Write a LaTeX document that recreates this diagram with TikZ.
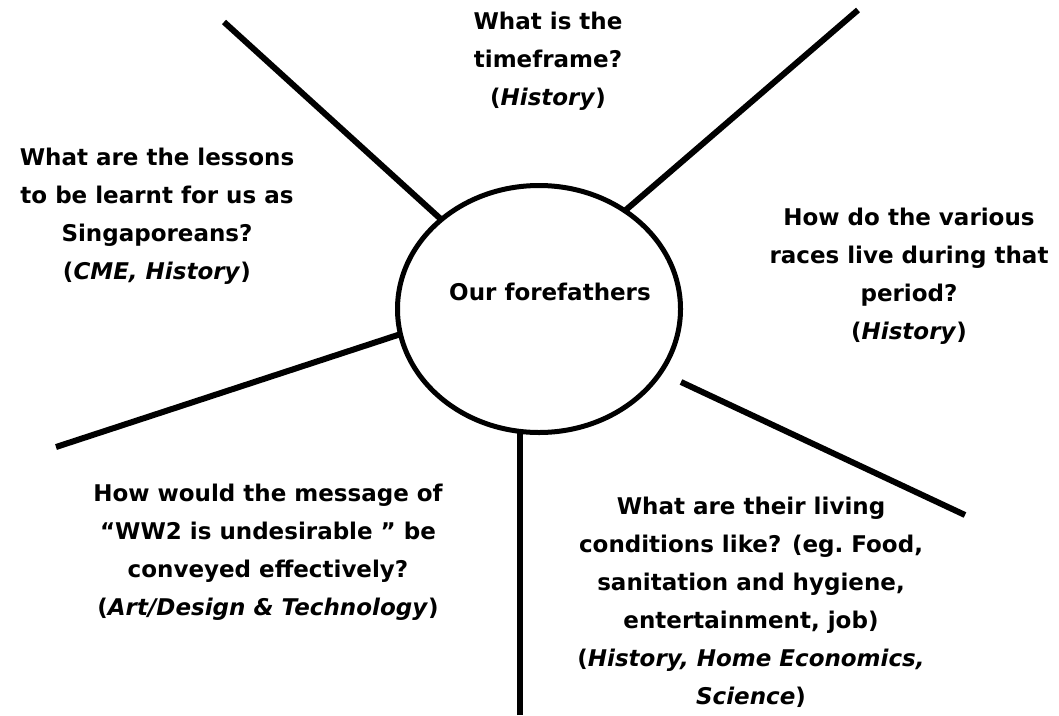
\documentclass[tikz,border=0pt]{standalone}
\usepackage{fontspec}
\setmainfont{DejaVu Sans}[BoldFont={DejaVu Sans Bold},BoldItalicFont={DejaVu Sans Bold Oblique}]
\usetikzlibrary{shapes.geometric}
\tikzset{
  spoke/.style={line width=6pt},
  hub/.style={draw, ellipse, line width=5pt, fill=white, minimum width=283pt, minimum height=247pt, inner sep=0pt},
  qtext/.style={align=center, font=\fontsize{23}{38}\selectfont\bfseries, inner sep=0pt},
}
\newcommand{\subj}[1]{\textit{#1}}
\begin{document}
\begin{tikzpicture}[x=1pt,y=-1pt]
\useasboundingbox (0,0) rectangle (1059,715);
% outer ends
\coordinate (o1) at (224,22);
\coordinate (o2) at (858,10);
\coordinate (o3) at (56,447);
\coordinate (o4) at (965,515);
\coordinate (o5) at (520,715);
% inner ends
\coordinate (i1) at (455,232);
\coordinate (i2) at (620,215);
\coordinate (i3) at (410,331);
\coordinate (i4) at (681,382);
\coordinate (i5) at (520,420);
\draw[spoke] (o1) -- (i1);
\draw[spoke] (o2) -- (i2);
\draw[spoke] (o3) -- (i3);
\draw[spoke] (o4) -- (i4);
\draw[spoke] (o5) -- (i5);
\node[hub] (E) at (539,309) {};
\node[qtext] (c) at (550,292) {Our forefathers};
\node[qtext] (t1) at (548,61) {What is the\\timeframe?\\(\subj{History})};
\node[qtext] (t2) at (157,216) {What are the lessons\\to be learnt for us as\\Singaporeans?\\(\subj{CME, History})};
\node[qtext] (t3) at (909,276) {How do the various\\races live during that\\period?\\(\subj{History})};
\node[qtext] (t4) at (268,552) {How would the message of\\“WW2 is undesirable ” be\\conveyed effectively?\\(\subj{Art/Design \& Technology})};
\node[qtext] (t5) at (751,602) {What are their living\\conditions like? (eg.\ Food,\\sanitation and hygiene,\\entertainment, job)\\(\subj{History, Home Economics,}\\\subj{Science})};
\end{tikzpicture}
\end{document}
